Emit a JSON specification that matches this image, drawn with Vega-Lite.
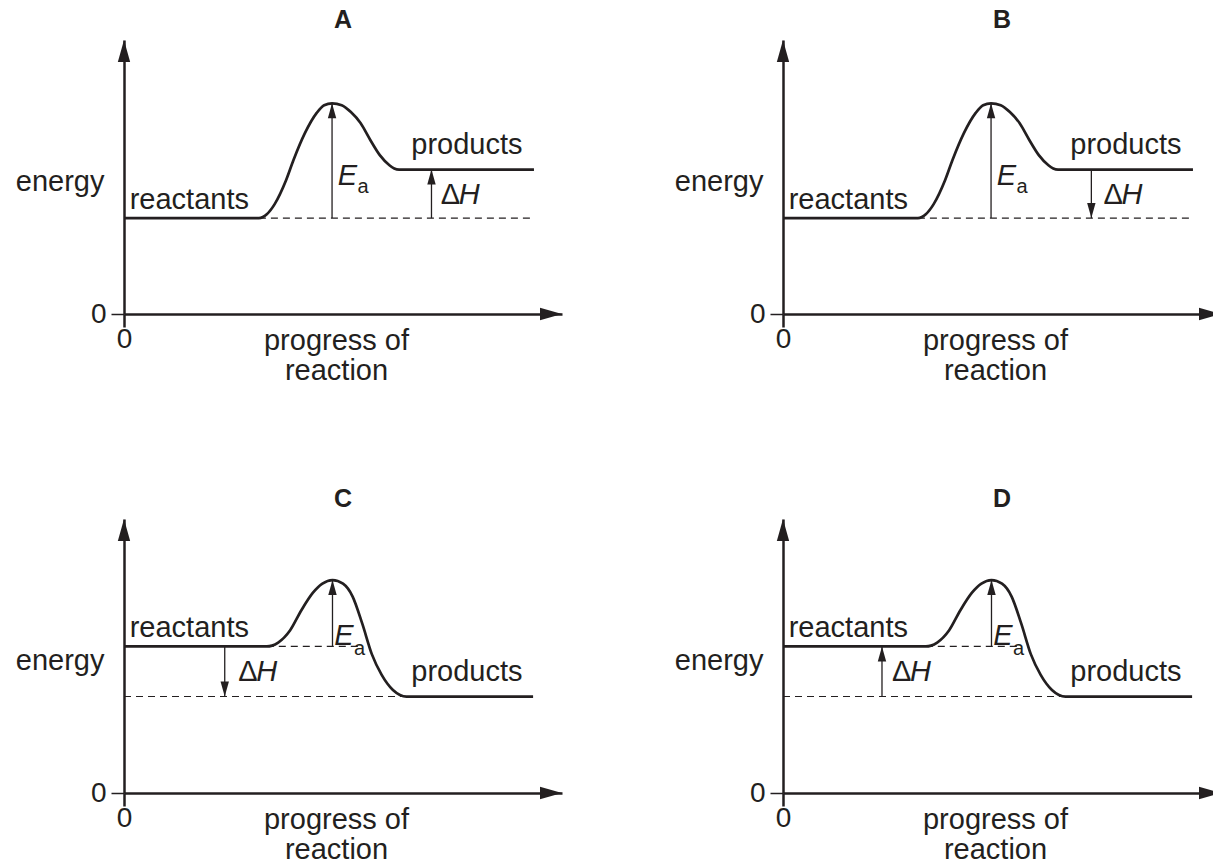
{
  "$schema": "https://vega.github.io/schema/vega-lite/v6.json",
  "background": "white",
  "padding": {"left": 15, "top": 8, "right": 0, "bottom": 0},
  "config": {"view": {"stroke": null}, "font": "Liberation Sans"},
  "data": {"values": [
    {"panel":"A","kind":"curve","x":0,"y":35},{"panel":"A","kind":"curve","x":30.8,"y":35},{"panel":"A","kind":"curve","x":31.7,"y":35.4},{"panel":"A","kind":"curve","x":32.6,"y":36.4},{"panel":"A","kind":"curve","x":34.4,"y":40.1},{"panel":"A","kind":"curve","x":37.0,"y":48.8},{"panel":"A","kind":"curve","x":38.7,"y":56.2},{"panel":"A","kind":"curve","x":41.3,"y":66.0},{"panel":"A","kind":"curve","x":44.0,"y":73.4},{"panel":"A","kind":"curve","x":45.7,"y":76.2},{"panel":"A","kind":"curve","x":47.5,"y":76.9},{"panel":"A","kind":"curve","x":49.7,"y":76.2},{"panel":"A","kind":"curve","x":51.8,"y":73.7},{"panel":"A","kind":"curve","x":54.0,"y":69.7},{"panel":"A","kind":"curve","x":56.2,"y":63.6},{"panel":"A","kind":"curve","x":58.4,"y":58.0},{"panel":"A","kind":"curve","x":60.6,"y":54.3},{"panel":"A","kind":"curve","x":61.7,"y":53.1},{"panel":"A","kind":"curve","x":62.8,"y":52.7},{"panel":"A","kind":"curve","x":93.6,"y":52.7},
    {"panel":"B","kind":"curve","x":0,"y":35},{"panel":"B","kind":"curve","x":30.8,"y":35},{"panel":"B","kind":"curve","x":31.7,"y":35.4},{"panel":"B","kind":"curve","x":32.6,"y":36.4},{"panel":"B","kind":"curve","x":34.4,"y":40.1},{"panel":"B","kind":"curve","x":37.0,"y":48.8},{"panel":"B","kind":"curve","x":38.7,"y":56.2},{"panel":"B","kind":"curve","x":41.3,"y":66.0},{"panel":"B","kind":"curve","x":44.0,"y":73.4},{"panel":"B","kind":"curve","x":45.7,"y":76.2},{"panel":"B","kind":"curve","x":47.5,"y":76.9},{"panel":"B","kind":"curve","x":49.7,"y":76.2},{"panel":"B","kind":"curve","x":51.8,"y":73.7},{"panel":"B","kind":"curve","x":54.0,"y":69.7},{"panel":"B","kind":"curve","x":56.2,"y":63.6},{"panel":"B","kind":"curve","x":58.4,"y":58.0},{"panel":"B","kind":"curve","x":60.6,"y":54.3},{"panel":"B","kind":"curve","x":61.7,"y":53.1},{"panel":"B","kind":"curve","x":62.8,"y":52.7},{"panel":"B","kind":"curve","x":93.6,"y":52.7},
    {"panel":"C","kind":"curve","x":0,"y":53.5},{"panel":"C","kind":"curve","x":32.6,"y":53.5},{"panel":"C","kind":"curve","x":33.8,"y":53.8},{"panel":"C","kind":"curve","x":35.2,"y":54.9},{"panel":"C","kind":"curve","x":37.9,"y":59.3},{"panel":"C","kind":"curve","x":40.5,"y":66.7},{"panel":"C","kind":"curve","x":43.1,"y":73.0},{"panel":"C","kind":"curve","x":45.3,"y":76.4},{"panel":"C","kind":"curve","x":47.6,"y":77.7},{"panel":"C","kind":"curve","x":50.0,"y":76.4},{"panel":"C","kind":"curve","x":52.2,"y":71.7},{"panel":"C","kind":"curve","x":54.4,"y":61.8},{"panel":"C","kind":"curve","x":56.6,"y":50.6},{"panel":"C","kind":"curve","x":58.8,"y":43.2},{"panel":"C","kind":"curve","x":61.4,"y":37.6},{"panel":"C","kind":"curve","x":63.0,"y":35.8},{"panel":"C","kind":"curve","x":64.5,"y":35.2},{"panel":"C","kind":"curve","x":93.4,"y":35.2},
    {"panel":"D","kind":"curve","x":0,"y":53.5},{"panel":"D","kind":"curve","x":32.6,"y":53.5},{"panel":"D","kind":"curve","x":33.8,"y":53.8},{"panel":"D","kind":"curve","x":35.2,"y":54.9},{"panel":"D","kind":"curve","x":37.9,"y":59.3},{"panel":"D","kind":"curve","x":40.5,"y":66.7},{"panel":"D","kind":"curve","x":43.1,"y":73.0},{"panel":"D","kind":"curve","x":45.3,"y":76.4},{"panel":"D","kind":"curve","x":47.6,"y":77.7},{"panel":"D","kind":"curve","x":50.0,"y":76.4},{"panel":"D","kind":"curve","x":52.2,"y":71.7},{"panel":"D","kind":"curve","x":54.4,"y":61.8},{"panel":"D","kind":"curve","x":56.6,"y":50.6},{"panel":"D","kind":"curve","x":58.8,"y":43.2},{"panel":"D","kind":"curve","x":61.4,"y":37.6},{"panel":"D","kind":"curve","x":63.0,"y":35.8},{"panel":"D","kind":"curve","x":64.5,"y":35.2},{"panel":"D","kind":"curve","x":93.4,"y":35.2},
    {"panel":"A","kind":"dash","x":30.8,"x2":93.6,"y":35},
    {"panel":"B","kind":"dash","x":30.8,"x2":93.6,"y":35},
    {"panel":"C","kind":"dash","x":32.6,"x2":54,"y":53.5},{"panel":"C","kind":"dash","x":0,"x2":64.5,"y":35.2},
    {"panel":"D","kind":"dash","x":32.6,"x2":54,"y":53.5},{"panel":"D","kind":"dash","x":0,"x2":64.5,"y":35.2},
    {"panel":"A","kind":"arrow","x":47.5,"y":35,"y2":76.9},{"panel":"A","kind":"arrow","x":70.2,"y":35,"y2":52.7},
    {"panel":"B","kind":"arrow","x":47.5,"y":35,"y2":76.9},{"panel":"B","kind":"arrow","x":70.4,"y":52.7,"y2":35},
    {"panel":"C","kind":"arrow","x":47.6,"y":53.5,"y2":77.7},{"panel":"C","kind":"arrow","x":23.0,"y":53.5,"y2":35.2},
    {"panel":"D","kind":"arrow","x":47.6,"y":53.5,"y2":77.7},{"panel":"D","kind":"arrow","x":22.6,"y":35.2,"y2":53.5},
    {"panel":"A","kind":"head","x":47.5,"y":76.9,"dir":"up"},{"panel":"A","kind":"head","x":70.2,"y":52.7,"dir":"up"},
    {"panel":"B","kind":"head","x":47.5,"y":76.9,"dir":"up"},{"panel":"B","kind":"head","x":70.4,"y":35,"dir":"down"},
    {"panel":"C","kind":"head","x":47.6,"y":77.7,"dir":"up"},{"panel":"C","kind":"head","x":23.0,"y":35.2,"dir":"down"},
    {"panel":"D","kind":"head","x":47.6,"y":77.7,"dir":"up"},{"panel":"D","kind":"head","x":22.6,"y":53.5,"dir":"up"},
    {"panel":"A","kind":"axhead","x":100,"y":0,"dir":"right"},{"panel":"A","kind":"axhead","x":0,"y":100,"dir":"up"},
    {"panel":"B","kind":"axhead","x":100,"y":0,"dir":"right"},{"panel":"B","kind":"axhead","x":0,"y":100,"dir":"up"},
    {"panel":"C","kind":"axhead","x":100,"y":0,"dir":"right"},{"panel":"C","kind":"axhead","x":0,"y":100,"dir":"up"},
    {"panel":"D","kind":"axhead","x":100,"y":0,"dir":"right"},{"panel":"D","kind":"axhead","x":0,"y":100,"dir":"up"},
    {"panel":"A","kind":"label","x":1.3,"y":38.3,"text":"reactants"},{"panel":"A","kind":"label","x":65.6,"y":58.4,"text":"products"},{"panel":"A","kind":"label","x":72.3,"y":40.1,"text":"Δ"},
    {"panel":"B","kind":"label","x":1.3,"y":38.3,"text":"reactants"},{"panel":"B","kind":"label","x":65.6,"y":58.4,"text":"products"},{"panel":"B","kind":"label","x":73.2,"y":40.1,"text":"Δ"},
    {"panel":"C","kind":"label","x":1.3,"y":56.8,"text":"reactants"},{"panel":"C","kind":"label","x":65.6,"y":40.7,"text":"products"},{"panel":"C","kind":"label","x":26.1,"y":40.7,"text":"Δ"},
    {"panel":"D","kind":"label","x":1.3,"y":56.8,"text":"reactants"},{"panel":"D","kind":"label","x":65.6,"y":40.7,"text":"products"},{"panel":"D","kind":"label","x":24.9,"y":40.7,"text":"Δ"},
    {"panel":"A","kind":"ital","x":48.8,"y":46.9,"text":"E"},{"panel":"A","kind":"ital","x":76.4,"y":40.1,"text":"H"},
    {"panel":"B","kind":"ital","x":48.8,"y":46.9,"text":"E"},{"panel":"B","kind":"ital","x":77.3,"y":40.1,"text":"H"},
    {"panel":"C","kind":"ital","x":48.0,"y":53.9,"text":"E"},{"panel":"C","kind":"ital","x":30.2,"y":40.7,"text":"H"},
    {"panel":"D","kind":"ital","x":48.0,"y":53.9,"text":"E"},{"panel":"D","kind":"ital","x":29.0,"y":40.7,"text":"H"},
    {"panel":"A","kind":"sub","x":53.3,"y":44.1,"text":"a"},
    {"panel":"B","kind":"sub","x":53.3,"y":44.1,"text":"a"},
    {"panel":"C","kind":"sub","x":52.5,"y":50.2,"text":"a"},
    {"panel":"D","kind":"sub","x":52.5,"y":50.2,"text":"a"}
  ]},
  "facet": {"field": "panel", "type": "nominal", "header": {"title": null, "labelFontSize": 25, "labelFontWeight": "bold", "labelFont": "Liberation Sans", "labelColor": "#231f20", "labelPadding": 7}},
  "columns": 2,
  "spacing": {"row": 205, "column": 221},
  "bounds": "flush",
  "resolve": {"axis": {"x": "independent", "y": "independent"}},
  "spec": {
    "width": 438,
    "height": 274,
    "encoding": {
      "x": {"field": "x", "type": "quantitative", "scale": {"domain": [0, 100], "nice": false, "zero": false},
        "axis": {"values": [0], "title": ["progress of", "reaction"], "titleX": 212, "titleY": 35, "titleAlign": "center", "titleBaseline": "alphabetic", "titleFontSize": 29, "titleFontWeight": "normal", "titleFont": "Liberation Sans", "titleColor": "#231f20", "titleLineHeight": 30,
          "labelFontSize": 28, "labelFont": "Liberation Sans", "labelColor": "#231f20", "labelPadding": -2, "labelFlush": false,
          "tickSize": 13, "tickWidth": 2.5, "tickColor": "#231f20", "domainWidth": 2.5, "domainColor": "#231f20", "grid": false}},
      "y": {"field": "y", "type": "quantitative", "scale": {"domain": [0, 100], "nice": false, "zero": false},
        "axis": {"values": [0], "title": "energy", "titleAngle": 0, "titleX": -20, "titleY": 150, "titleAlign": "right", "titleBaseline": "alphabetic", "titleFontSize": 29, "titleFontWeight": "normal", "titleFont": "Liberation Sans", "titleColor": "#231f20",
          "labelFontSize": 28, "labelFont": "Liberation Sans", "labelColor": "#231f20", "labelPadding": 5, "labelFlush": false,
          "tickSize": 13, "tickWidth": 1.5, "tickColor": "#231f20", "domainWidth": 2.5, "domainColor": "#231f20", "grid": false}}
    },
    "layer": [
      {"transform": [{"filter": "datum.kind === 'dash'"}], "mark": {"type": "rule", "strokeDash": [7, 5], "strokeWidth": 1.1, "color": "#231f20"}, "encoding": {"x2": {"field": "x2"}}},
      {"transform": [{"filter": "datum.kind === 'arrow'"}], "mark": {"type": "rule", "strokeWidth": 1.3, "color": "#231f20"}, "encoding": {"y2": {"field": "y2"}}},
      {"transform": [{"filter": "datum.kind === 'curve'"}], "mark": {"type": "line", "interpolate": "monotone", "strokeWidth": 2.7, "color": "#231f20"}},
      {"transform": [{"filter": "datum.kind === 'head'"}], "mark": {"type": "point", "filled": true, "size": 900, "color": "#231f20", "opacity": 1},
        "encoding": {"shape": {"field": "dir", "type": "nominal", "legend": null, "scale": {"domain": ["up", "down", "right"], "range": ["M0,0L0.28,1L-0.28,1Z", "M0,0L0.28,-1L-0.28,-1Z", "M0,0L-1,0.28L-1,-0.28Z"]}}}},
      {"transform": [{"filter": "datum.kind === 'axhead'"}], "mark": {"type": "point", "filled": true, "size": 1936, "color": "#231f20", "opacity": 1},
        "encoding": {"shape": {"field": "dir", "type": "nominal", "legend": null, "scale": {"domain": ["up", "down", "right"], "range": ["M0,0L0.28,1L-0.28,1Z", "M0,0L0.28,-1L-0.28,-1Z", "M0,0L-1,0.28L-1,-0.28Z"]}}}},
      {"transform": [{"filter": "datum.kind === 'label'"}], "mark": {"type": "text", "align": "left", "baseline": "alphabetic", "fontSize": 29, "font": "Liberation Sans", "color": "#231f20"}, "encoding": {"text": {"field": "text"}}},
      {"transform": [{"filter": "datum.kind === 'ital'"}], "mark": {"type": "text", "align": "left", "baseline": "alphabetic", "fontSize": 29, "fontStyle": "italic", "font": "Liberation Sans", "color": "#231f20"}, "encoding": {"text": {"field": "text"}}},
      {"transform": [{"filter": "datum.kind === 'sub'"}], "mark": {"type": "text", "align": "left", "baseline": "alphabetic", "fontSize": 20, "font": "Liberation Sans", "color": "#231f20"}, "encoding": {"text": {"field": "text"}}}
    ]
  }
}
